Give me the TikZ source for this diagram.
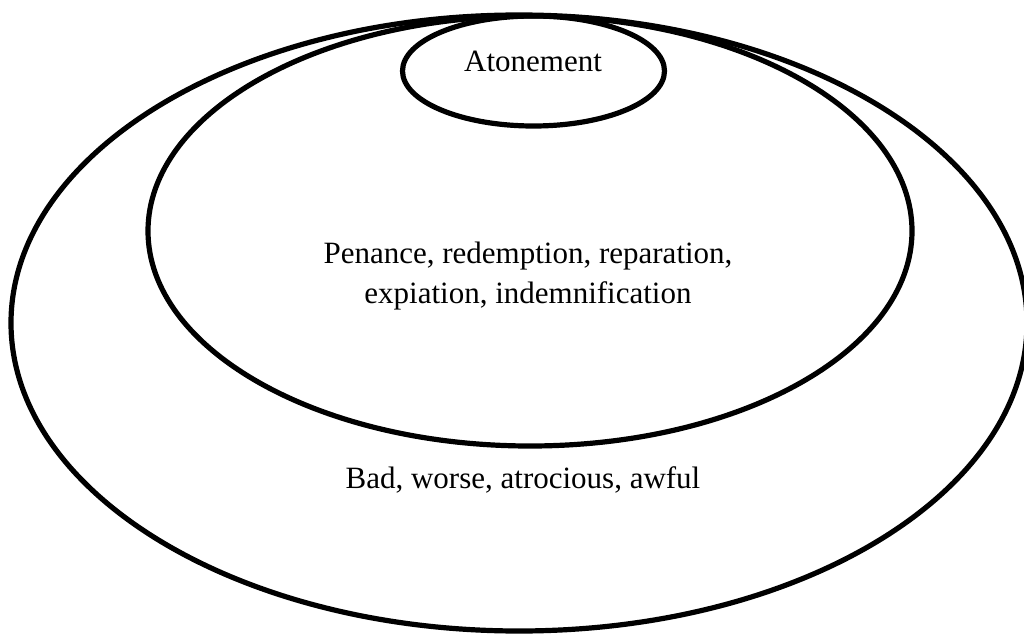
\documentclass[tikz,border=0pt]{standalone}
\usepackage{fontspec}
\setmainfont{Liberation Serif}
\usetikzlibrary{positioning}

\begin{document}
\begin{tikzpicture}[x=1pt, y=-1pt,
    ring/.style={draw=black, line width=5.2pt},
    label/.style={align=center, font=\fontsize{31}{40}\selectfont}
  ]
    \useasboundingbox (0,0) rectangle (1024,636);
    \clip (0,0) rectangle (1024,636);

    % Outer, middle and top ellipses
    \draw[ring] (519,323) ellipse [x radius=508, y radius=308];
    \draw[ring] (530,231) ellipse [x radius=382, y radius=215];
    \draw[ring] (533.5,71) ellipse [x radius=131, y radius=55];

    % Labels
    \node[label, anchor=base] (atone) at (533,72)  {Atonement};
    \node[label] (pen)   at (528,276) {Penance, redemption, reparation,\\expiation, indemnification};
    \node[label, anchor=base] (bad) at (523,488) {Bad, worse, atrocious, awful};

\end{tikzpicture}
\end{document}
